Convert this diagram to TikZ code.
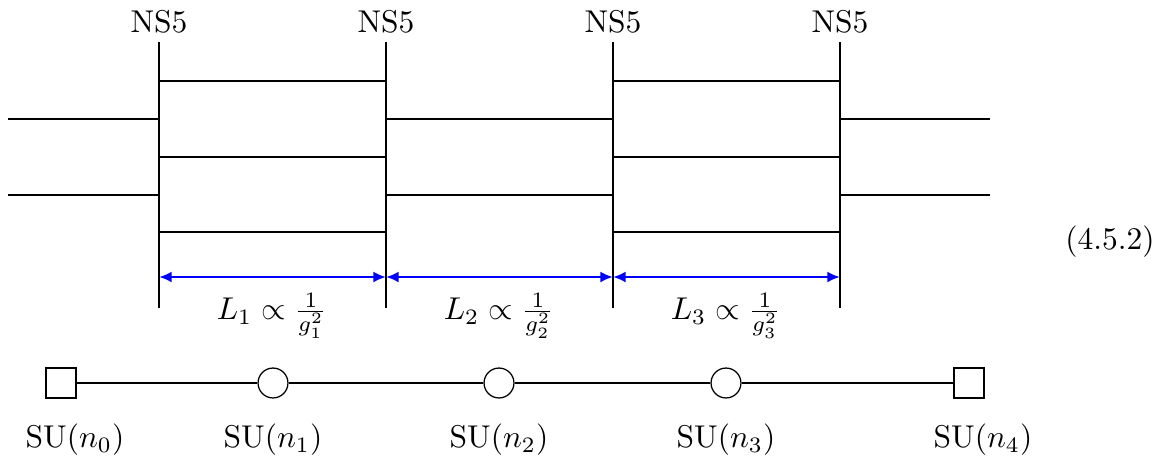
\documentclass[tikz,border=0pt]{standalone}
\usetikzlibrary{arrows.meta}
\begin{document}
\begin{tikzpicture}[x=0.3175pt,y=-0.3175pt,
  brane/.style={line width=0.75pt},
  dstring/.style={line width=0.4pt},
  dist/.style={blue,line width=0.8pt,{Latex[length=4pt,width=3.5pt]}-{Latex[length=4pt,width=3.5pt]}},
  gauge/.style={circle,draw,minimum size=9.5pt,inner sep=0pt},
  flavor/.style={rectangle,draw,minimum size=9.5pt,inner sep=0pt},
  lbl/.style={inner sep=0pt}]
\useasboundingbox (0,0) rectangle (1158,462);
% NS5 branes
\foreach \i/\x in {1/159,2/386,3/613,4/840}{
  \coordinate (t\i) at (\x,42);
  \coordinate (b\i) at (\x,308);
  \node[lbl] (ns\i) at (\x,22) {NS5};
  \draw[brane] (t\i) -- (b\i);
}
\coordinate (l0) at (8,0);
\coordinate (r5) at (990,0);
% D4 branes
\foreach \y in {119,195}{
  \draw[dstring] (l0 |- 0,\y) -- (t1 |- 0,\y);
  \draw[dstring] (t2 |- 0,\y) -- (t3 |- 0,\y);
  \draw[dstring] (t4 |- 0,\y) -- (r5 |- 0,\y);
}
\foreach \y in {81,157,232}{
  \draw[dstring] (t1 |- 0,\y) -- (t2 |- 0,\y);
  \draw[dstring] (t3 |- 0,\y) -- (t4 |- 0,\y);
}
% distances
\foreach \i/\j in {1/2,2/3,3/4}{
  \draw[dist] (t\i |- 0,277) -- (t\j |- 0,277);
}
\node[lbl] (L1) at (272,316) {$L_1\propto\frac{1}{g_1^2}$};
\node[lbl] (L2) at (499,316) {$L_2\propto\frac{1}{g_2^2}$};
\node[lbl] (L3) at (726,316) {$L_3\propto\frac{1}{g_3^2}$};
% quiver
\node[flavor] (q0) at (61,383) {};
\node[gauge] (q1) at (273,383) {};
\node[gauge] (q2) at (499,383) {};
\node[gauge] (q3) at (726,383) {};
\node[flavor] (q4) at (969,383) {};
\draw (q0) -- (q1) -- (q2) -- (q3) -- (q4);
\node[lbl] (s0) at (75,440) {$\mathrm{SU}(n_0)$};
\node[lbl] (s1) at (273,440) {$\mathrm{SU}(n_1)$};
\node[lbl] (s2) at (499,440) {$\mathrm{SU}(n_2)$};
\node[lbl] (s3) at (726,440) {$\mathrm{SU}(n_3)$};
\node[lbl] (s4) at (983,440) {$\mathrm{SU}(n_4)$};
\node[lbl] (eq) at (1110,242) {(4.5.2)};
\end{tikzpicture}
\end{document}
